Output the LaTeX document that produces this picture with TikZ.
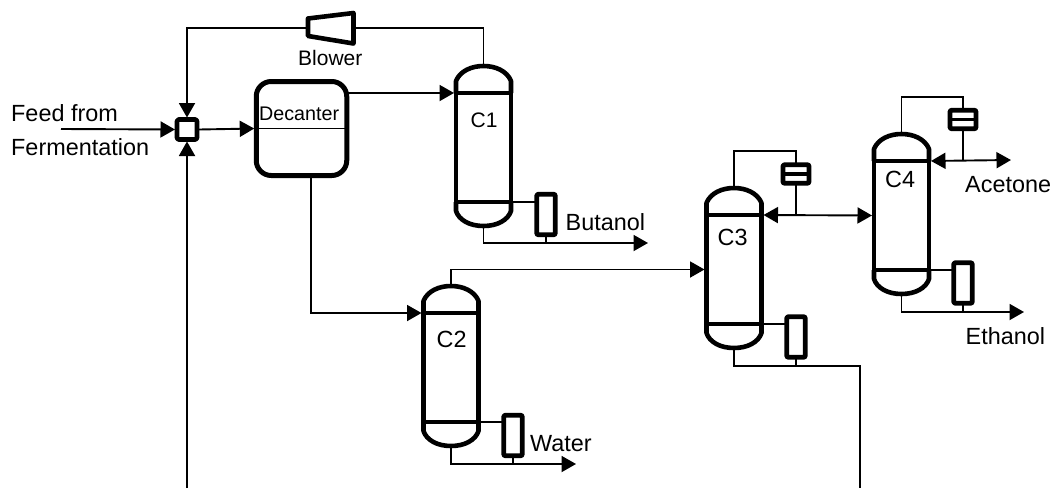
\documentclass[tikz,border=0pt]{standalone}
\usepackage{fontspec}
\setmainfont{Liberation Sans}
\usetikzlibrary{arrows.meta}

\begin{document}
\begin{tikzpicture}[
    x=1pt, y=-1pt,
    vessel/.style={draw, line width=4.6pt, line join=round},
    columnbody/.style={vessel, inner sep=0pt, outer sep=0pt, minimum width=55pt, minimum height=109pt},
    reboilerbox/.style={vessel, rounded corners=1pt, inner sep=0pt, outer sep=2pt, minimum width=18.5pt, minimum height=40.5pt},
    condenserbox/.style={vessel, rounded corners=1pt, inner sep=0pt, outer sep=2pt, minimum width=26pt, minimum height=18.5pt},
    pipe/.style={line width=1.9pt},
    flow/.style={pipe, -{Triangle[length=14.5pt,width=16pt]}},
    twoway/.style={pipe, {Triangle[length=14.5pt,width=16pt]}-{Triangle[length=14.5pt,width=16pt]}},
    txt/.style={inner sep=0pt, anchor=base west, font=\fontsize{23.4}{28}\selectfont},
    txtsmall/.style={inner sep=0pt, anchor=base west, font=\fontsize{21}{25}\selectfont}
]
\useasboundingbox (0,0) rectangle (1053,488);

% columns
\foreach \col/\cx/\cy in {C1/483.5/147.5, C2/451/367.5, C3/734/269.5, C4/901.5/215.5} {
    \node[columnbody] (\col) at (\cx,\cy) {};
    \draw[vessel] (\col.north west) -- ++(0,-12) .. controls +(4,-10) and +(-12,0) .. ++(27.5,-15)
        .. controls +(12,0) and +(-4,-10) .. ++(27.5,15) -- (\col.north east);
    \draw[vessel] (\col.south west) -- ++(0,9) .. controls +(3,9) and +(-14,0) .. ++(27.5,15)
        .. controls +(14,0) and +(-3,9) .. ++(27.5,-15) -- (\col.south east);
    \coordinate (\col-top) at ([yshift=27pt]\col.north);
    \coordinate (\col-bot) at ([yshift=-24pt]\col.south);
}

% reboilers and condensers
\node[reboilerbox] (reb1) at (546,214.5) {};
\node[reboilerbox] (reb2) at (513,435.5) {};
\node[reboilerbox] (reb3) at (796,337) {};
\node[reboilerbox] (reb4) at (963,283) {};
\node[condenserbox] (cond3) at (796,174) {};
\node[condenserbox] (cond4) at (963,119.5) {};
\draw[line width=3.4pt] (cond3.west) -- (cond3.east);
\draw[line width=3.4pt] (cond4.west) -- (cond4.east);

% mixer, decanter, blower
\node[vessel, rounded corners=1.5pt, inner sep=0pt, outer sep=2pt, minimum size=20pt] (mixer) at (187,129.5) {};
\node[vessel, line width=5pt, rounded corners=15pt, inner sep=0pt, outer sep=0pt, minimum width=90.5pt, minimum height=94pt] (decanter) at (301.5,128.5) {};
\draw[pipe] (decanter.west) -- (decanter.east);
\coordinate (blowerL) at (306,28);
\coordinate (blowerR) at (355,28);
\draw[vessel] (308,18.5) -- (353.5,13) -- (353.5,43.5) -- (308,36) -- cycle;

% free ends
\coordinate (feedIn) at (61,129);
\coordinate (recycleL) at (187,488);
\coordinate (recycleR) at (860,488);
\coordinate (butanolEnd) at (648,243);
\coordinate (waterEnd) at (576,464);
\coordinate (ethanolEnd) at (1024,312);
\coordinate (acetoneEnd) at (1011,160);

% streams
\draw[flow] (feedIn) -- (mixer.west);
\draw[flow] (blowerL) -| (mixer.north);
\draw[flow] (recycleL) -- (mixer.south);
\draw[flow, shorten >=2pt] (mixer.east) -- (decanter.west);
\draw[pipe] (blowerR) -| (C1-top);
\draw[flow, shorten >=2pt] (decanter.east |- C1.north west) -- (C1.north west);
\draw[flow, shorten >=2pt] ([xshift=9.5pt]decanter.south) |- (C2.north west);
\draw[flow, shorten >=2pt] (C2-top) |- (C3.west);
\draw[twoway, shorten >=2pt, shorten <=2pt] (C3.north east) -- (C4.west);
\draw[twoway, shorten <=2pt] (C4.north east) -- (acetoneEnd);

% overheads
\draw[pipe] (C3-top) -- ++(0,-37) -| (cond3.north);
\draw[pipe] (C4-top) -- ++(0,-37) -| (cond4.north);
\draw[pipe] (cond3.south) -- (cond3.south |- C3.north east);
\draw[pipe] (cond4.south) -- (cond4.south |- C4.north east);

% bottoms
\draw[flow] (C1-bot) |- (butanolEnd);
\draw[flow] (C2-bot) |- (waterEnd);
\draw[flow] (C4-bot) |- (ethanolEnd);
\draw[pipe] (C3-bot) -- ++(0,18) -| (recycleR);
\draw[line width=2.8pt] (C1.south east) -- (reb1.west |- C1.south east);
\draw[line width=2.8pt] (C2.south east) -- (reb2.west |- C2.south east);
\draw[pipe] (C3.south east) -- (reb3.west |- C3.south east);
\draw[pipe] (C4.south east) -- (reb4.west |- C4.south east);
\draw[pipe] (reb1.south) -- (reb1.south |- butanolEnd);
\draw[pipe] (reb2.south) -- (reb2.south |- waterEnd);
\draw[pipe] (reb3.south) -- ++(0,7);
\draw[pipe] (reb4.south) -- (reb4.south |- ethanolEnd);

% labels
\node[txt] (feedA) at (11,121.5) {Feed from};
\node[txt] (feedB) at (11,155) {Fermentation};
\node[txtsmall] (blowerText) at (298,65) {Blower};
\node[txtsmall, font=\fontsize{19.7}{24}\selectfont] (decanterText) at (259,120) {Decanter};
\node[txtsmall] (c1Text) at (470.5,127.5) {C1};
\node[txt] (c2Text) at (436.5,347) {C2};
\node[txt] (c3Text) at (717.5,245.5) {C3};
\node[txt] (c4Text) at (885,187) {C4};
\node[txt] (butanolText) at (565.5,230) {Butanol};
\node[txt] (waterText) at (530,451.5) {Water};
\node[txt] (acetoneText) at (965,192) {Acetone};
\node[txt] (ethanolText) at (965.5,344) {Ethanol};
\end{tikzpicture}
\end{document}
